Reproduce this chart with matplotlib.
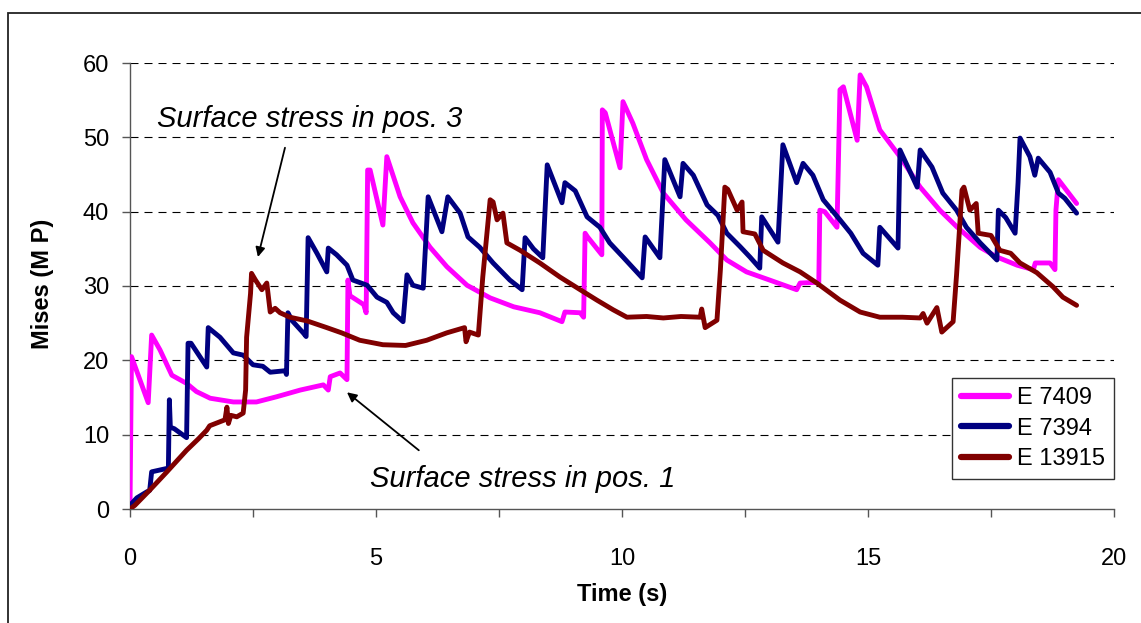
import matplotlib
matplotlib.use("Agg")
import matplotlib.pyplot as plt
from matplotlib.patches import Rectangle
from matplotlib.ticker import MultipleLocator

plt.rcParams['font.family'] = ['Liberation Sans', 'DejaVu Sans']

# Mises stress histories (time in s, stress in MPa)
t_7409 = [0.0, 0.03, 0.37, 0.44, 0.61, 0.85, 1.15, 1.35, 1.63, 2.1, 2.57, 2.98, 3.46,
          3.93, 4.03, 4.07, 4.27, 4.41, 4.43, 4.47, 4.75, 4.80, 4.83, 4.88, 5.14, 5.22,
          5.49, 5.75, 6.1, 6.44, 6.85, 7.32, 7.8, 8.33, 8.78, 8.84, 9.15, 9.22, 9.25,
          9.3, 9.59, 9.6, 9.66, 9.96, 10.02, 10.22, 10.5, 10.84, 11.3, 11.79, 12.13,
          12.53, 13.0, 13.55, 13.62, 14.0, 14.02, 14.12, 14.37, 14.43, 14.5, 14.78,
          14.84, 14.97, 15.24, 15.65, 16.06, 16.46, 16.8, 17.28, 17.62, 18.03, 18.36,
          18.4, 18.7, 18.8, 18.82, 18.87, 19.24]
s_7409 = [0.0, 20.5, 14.3, 23.4, 21.4, 18.0, 16.9, 15.8, 14.9, 14.4, 14.4, 15.1, 16.0,
          16.7, 16.0, 17.8, 18.3, 17.4, 30.8, 28.7, 27.5, 26.4, 45.6, 45.6, 38.2, 47.4,
          42.0, 38.5, 35.2, 32.6, 30.1, 28.4, 27.2, 26.4, 25.2, 26.5, 26.4, 25.8, 37.1,
          36.6, 34.2, 53.7, 53.3, 45.9, 54.8, 51.9, 47.0, 42.5, 38.9, 35.8, 33.5,
          31.9, 30.8, 29.5, 30.4, 30.5, 40.2, 40.0, 37.9, 56.4, 56.8, 49.6,
          58.4, 56.8, 51.0, 47.4, 43.3, 40.2, 38.0, 35.2, 33.9, 32.8, 32.2,
          33.1, 33.1, 32.2, 40.2, 44.3, 41.1]

t_7394 = [0.0, 0.14, 0.34, 0.4, 0.44, 0.78, 0.8, 0.82, 0.9, 1.15, 1.18, 1.24, 1.56,
          1.59, 1.83, 2.1, 2.3, 2.5, 2.7, 2.85, 3.15, 3.18, 3.21, 3.3, 3.52, 3.58,
          3.62, 3.8, 4.0, 4.03, 4.2, 4.41, 4.53, 4.82, 5.02, 5.22, 5.35, 5.55, 5.63,
          5.75, 5.96, 6.06, 6.34, 6.46, 6.71, 6.87, 7.11, 7.38, 7.72, 7.97, 8.03,
          8.2, 8.39, 8.48, 8.78, 8.84, 9.05, 9.29, 9.55, 9.75, 10.02, 10.41, 10.47,
          10.77, 10.87, 11.18, 11.24, 11.45, 11.73, 11.95, 12.13, 12.4, 12.6, 12.8,
          12.84, 13.17, 13.27, 13.55, 13.68, 13.88, 14.09, 14.43, 14.65, 14.9, 15.2,
          15.24, 15.61, 15.65, 16.0, 16.06, 16.3, 16.52, 16.8, 17.0, 17.28, 17.62,
          17.65, 17.8, 17.99, 18.05, 18.09, 18.29, 18.39, 18.46, 18.7, 18.87, 19.0,
          19.24]
s_7394 = [0.5, 1.5, 2.3, 2.5, 5.0, 5.5, 14.7, 11.0, 10.8, 9.6, 22.3, 22.3, 19.1,
          24.4, 23.1, 21.0, 20.7, 19.4, 19.2, 18.4, 18.6, 18.1, 26.4, 25.3, 23.7, 23.2,
          36.5, 34.4, 31.9, 35.1, 34.2, 32.8, 30.8, 30.1, 28.5, 27.8, 26.4, 25.2, 31.5,
          30.1, 29.7, 42.0, 37.3, 42.0, 39.8, 36.6, 35.2, 33.1, 30.8, 29.5, 36.5,
          35.0, 33.8, 46.3, 41.2, 43.9, 42.8, 39.3, 37.9, 35.8, 33.9, 31.1, 36.6,
          33.8, 47.0, 42.0, 46.5, 44.9, 40.9, 39.5, 37.1, 35.3, 33.9, 32.4,
          39.3, 35.9, 49.0, 43.9, 46.5, 44.9, 41.6, 38.9, 37.1, 34.4, 32.8,
          37.9, 35.1, 48.3, 43.3, 48.3, 46.0, 42.5, 40.2, 37.9, 35.8, 33.5,
          40.2, 39.2, 37.1, 43.9, 49.9, 47.4, 44.9, 47.2, 45.3, 42.5, 41.8,
          39.8]

t_13915 = [0.0, 0.1, 0.41, 0.75, 1.15, 1.4, 1.56, 1.62, 1.93, 1.97, 2.0, 2.05, 2.17,
           2.3, 2.35, 2.37, 2.45, 2.47, 2.55, 2.68, 2.78, 2.85, 2.95, 3.05, 3.25, 3.6,
           4.0, 4.3, 4.67, 5.14, 5.6, 6.03, 6.44, 6.8, 6.83, 6.9, 7.08, 7.17, 7.32,
           7.38, 7.46, 7.58, 7.66, 7.93, 8.33, 8.74, 9.15, 9.49, 9.82, 10.1, 10.5,
           10.84, 11.2, 11.59, 11.62, 11.69, 11.93, 12.0, 12.09, 12.15, 12.34, 12.44,
           12.46, 12.7, 12.87, 13.27, 13.62, 13.96, 14.43, 14.84, 15.24, 15.7, 16.06,
           16.12, 16.2, 16.4, 16.5, 16.73, 16.8, 16.91, 16.95, 17.07, 17.2, 17.24,
           17.5, 17.68, 17.9, 18.09, 18.43, 18.76, 18.96, 19.24]
s_13915 = [0.0, 0.5, 2.6, 5.0, 7.9, 9.5, 10.6, 11.2, 12.0, 13.7, 11.5, 12.6, 12.4,
           12.9, 16.0, 23.1, 29.0, 31.7, 30.8, 29.5, 30.4, 26.5, 27.0, 26.4, 25.8, 25.3,
           24.4, 23.7, 22.7, 22.1, 22.0, 22.7, 23.7, 24.4, 22.5, 23.8, 23.4, 31.2, 41.6,
           41.3, 38.9, 39.8, 35.8, 34.8, 33.1, 31.2, 29.5, 28.1, 26.8, 25.8, 25.9,
           25.7, 25.9, 25.8, 26.9, 24.4, 25.4, 32.2, 43.3, 43.0, 40.2, 41.3,
           37.3, 37.0, 34.8, 33.1, 31.9, 30.4, 28.1, 26.5, 25.8, 25.8, 25.7,
           26.3, 25.0, 27.1, 23.8, 25.2, 31.5, 42.9, 43.3, 40.2, 41.1, 37.1,
           36.8, 34.8, 34.4, 33.1, 31.8, 29.9, 28.5, 27.4]

series_labels = ['E 7409', 'E 7394', 'E 13915']
series_colors = ['#FF00FF', '#000080', '#800000']

x_ticks = [0, 5, 10, 15, 20]
y_ticks = [0, 10, 20, 30, 40, 50, 60]

W, H = 1141, 623
fig = plt.figure(figsize=(W / 100, H / 100), dpi=100)
ax = fig.add_axes([130 / W, 1 - 509 / H, (1114 - 130) / W, (509 - 63) / H])

# outer chart border (top and left edges visible)
fig.patches.append(Rectangle((8 / W, -0.1), 1.2, 1.1 - 13 / H,
                             transform=fig.transFigure, fill=False,
                             edgecolor='#222222', linewidth=1.3))

for t, s, lab, col in zip([t_7409, t_7394, t_13915], [s_7409, s_7394, s_13915],
                          series_labels, series_colors):
    ax.plot(t, s, color=col, lw=3.5, label=lab, solid_joinstyle='round',
            solid_capstyle='round', zorder=3)

ax.set_xlim(0, 20)
ax.set_ylim(0, 60)
ax.set_xticks(x_ticks)
ax.set_yticks(y_ticks)
ax.xaxis.set_minor_locator(MultipleLocator(2.5))

for y in y_ticks[1:]:
    ax.axhline(y, color='black', lw=0.8, dashes=(7.2, 5.4), zorder=1)

for side in ('top', 'right'):
    ax.spines[side].set_visible(False)
for side in ('left', 'bottom'):
    ax.spines[side].set_color('#555555')
    ax.spines[side].set_linewidth(1.0)

ax.tick_params(axis='y', which='major', direction='out', length=6, width=1,
               color='#555555', labelsize=17, pad=9)
ax.tick_params(axis='x', which='both', direction='out', length=6, width=1,
               color='#555555', labelsize=17, pad=22)
ax.tick_params(axis='x', which='minor', labelbottom=False)

fig.text(622 / W, 1 - 595 / H, 'Time (s)', ha='center', va='center',
         fontsize=17, fontweight='bold')
fig.text(43 / W, 1 - 284 / H, 'Mises (M P)', ha='center', va='center',
         rotation=90, fontsize=17, fontweight='bold')

arrow_style = dict(arrowstyle='-|>', color='black', lw=1.3,
                   mutation_scale=14, shrinkA=0, shrinkB=0)

ax.text(0.55, 51.4, 'Surface stress in pos. 3', fontsize=21, fontstyle='italic',
        ha='left', va='baseline')
ax.annotate('', xy=(2.60, 33.9), xytext=(3.15, 48.6), arrowprops=arrow_style)

ax.text(4.88, 2.96, 'Surface stress in pos. 1', fontsize=21, fontstyle='italic',
        ha='left', va='baseline')
ax.annotate('', xy=(4.41, 15.7), xytext=(5.87, 7.9), arrowprops=arrow_style)

leg = ax.legend(loc='upper left', bbox_to_anchor=((952 - 130) / 984, (509 - 378) / 446),
                borderaxespad=0, fontsize=17, frameon=True, fancybox=False,
                handlelength=2.0, handletextpad=0.35, labelspacing=0.35,
                borderpad=0.4)
leg.get_frame().set_edgecolor('#333333')
leg.get_frame().set_linewidth(1.0)
leg.get_frame().set_alpha(1)
for line in leg.get_lines():
    line.set_linewidth(4.5)

fig.savefig('out.png', dpi=100)
